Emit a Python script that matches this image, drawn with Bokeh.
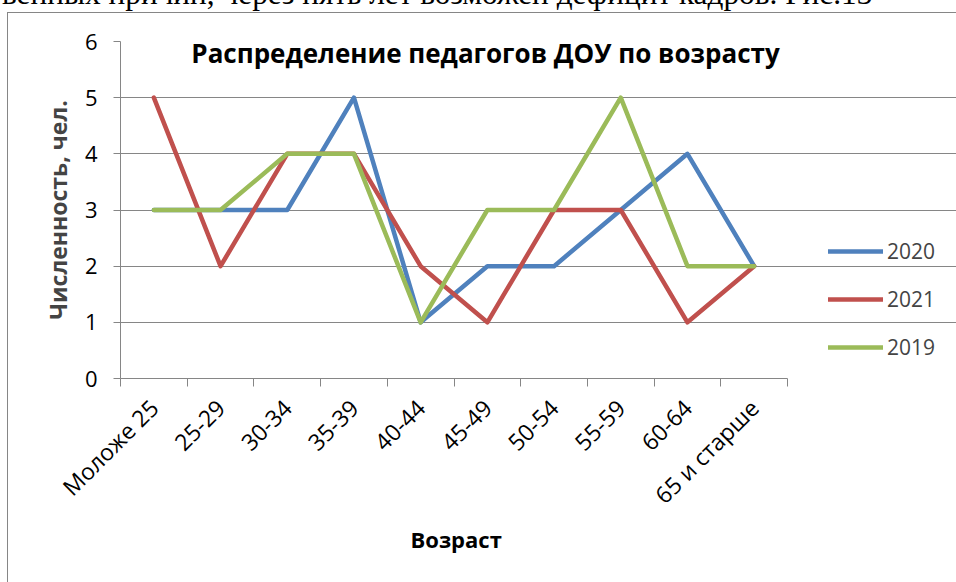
import math
from bokeh.plotting import figure
from bokeh.models import (FixedTicker, Label, Legend, LegendItem, Range1d,
                          Div, Title)
from bokeh.layouts import column
from bokeh.embed import file_html
from bokeh.resources import INLINE

# ---- data ----
categories = ["Моложе 25", "25-29", "30-34", "35-39", "40-44",
              "45-49", "50-54", "55-59", "60-64", "65 и старше"]
y2020 = [3, 3, 3, 5, 1, 2, 2, 3, 4, 2]
y2021 = [5, 2, 4, 4, 2, 1, 3, 3, 1, 2]
y2019 = [3, 3, 4, 4, 1, 3, 3, 5, 2, 2]
series_names = ["2020", "2021", "2019"]
y_ticks = [0, 1, 2, 3, 4, 5, 6]
colors = ["#4F81BD", "#C0504D", "#9BBB59"]

title_text = "Распределение педагогов ДОУ по возрасту"
x_title = "Возраст"
y_title = "Численность, чел."
caption_text = "венных причин, через пять лет возможен дефицит кадров. Рис.13"

# ---- layout ----
W, H = 956, 582
FL, FR, FT, FB = 120, 787, 41, 378   # axis area edges in px
n = len(categories)
x_end = n * (W - FL) / (FR - FL)     # frame extends to the right edge (legend lives there)

def dx(px):
    return (px - FL) / (FR - FL) * n

def dy(py):
    return (FB - py) / (FB - FT) * 6

xc = [i + 0.5 for i in range(n)]

FONT = "Open Sans"
GRAY = "#868686"

border_css = (f"linear-gradient({GRAY},{GRAY}) 7px 12px / 1px 100% no-repeat, "
              f"linear-gradient({GRAY},{GRAY}) 7px 12px / 100% 1px no-repeat, white")

p = figure(width=W, height=H, output_backend="svg", toolbar_location=None,
           x_range=Range1d(0, x_end), y_range=Range1d(0, 6),
           min_border_left=FL, min_border_right=0,
           min_border_top=FT, min_border_bottom=H - FB,
           styles={"background": border_css})
p.outline_line_color = None
p.background_fill_color = None
p.border_fill_color = None

# axes
xa = p.xaxis[0]
xa.bounds = (0, n)
xa.ticker = FixedTicker(ticks=xc, minor_ticks=list(range(n + 1)))
xa.major_label_overrides = {v: c for v, c in zip(xc, categories)}
xa.major_tick_in = 0
xa.major_tick_out = 0
xa.minor_tick_in = 0
xa.minor_tick_out = 8
xa.minor_tick_line_color = GRAY
xa.axis_line_color = GRAY
xa.major_label_orientation = math.pi / 4
xa.major_label_text_font = FONT
xa.major_label_text_font_size = "23px"
xa.major_label_text_color = "black"
xa.major_label_standoff = 17

# x-axis title, centred under the category axis
p.add_layout(Title(text=x_title, align="left", offset=410 - FL, standoff=-6,
                   text_font=FONT, text_font_style="bold",
                   text_font_size="22px", text_color="black"), "below")

ya = p.yaxis[0]
ya.ticker = FixedTicker(ticks=y_ticks)
ya.major_tick_in = 0
ya.major_tick_out = 7
ya.major_tick_line_color = GRAY
ya.minor_tick_line_color = None
ya.axis_line_color = GRAY
ya.major_label_text_font = FONT
ya.major_label_text_font_size = "22px"
ya.major_label_text_color = "black"
ya.major_label_standoff = 16
ya.axis_label = y_title
ya.axis_label_text_font = FONT
ya.axis_label_text_font_style = "bold"
ya.axis_label_text_font_size = "23px"
ya.axis_label_standoff = 8

p.xgrid.grid_line_color = None
p.ygrid.ticker = FixedTicker(ticks=y_ticks)
p.ygrid.bounds = (0, n)
p.ygrid.grid_line_color = GRAY
p.ygrid.grid_line_width = 1

# lines
renderers = []
for vals, col in zip([y2020, y2021, y2019], colors):
    r = p.line(xc, vals, line_color=col, line_width=4.5,
               line_join="round", line_cap="round")
    renderers.append(r)

legend = Legend(items=[LegendItem(label=nm, renderers=[r])
                       for nm, r in zip(series_names, renderers)],
                location=(828 - FL, 17), padding=0, margin=0,
                glyph_width=55, glyph_height=28, label_height=28,
                spacing=20, label_standoff=4,
                label_text_font=FONT, label_text_font_size="21px",
                border_line_color=None, background_fill_alpha=0)
p.add_layout(legend, "center")

# title inside the plot
p.add_layout(Label(x=dx(485), y=dy(52), text=title_text,
                   text_align="center", text_baseline="middle",
                   text_font=FONT, text_font_style="bold",
                   text_font_size="26px", text_color="black"))

# page caption above the chart (cut off at the top, as in the source)
cap = Div(text=caption_text,
          styles={"position": "absolute", "top": "-26px", "left": "-3px",
                  "font-family": "Liberation Serif", "font-size": "31.3px",
                  "line-height": "30px", "white-space": "nowrap",
                  "color": "black", "z-index": "5"})

layout = column(cap, p)
open("out.html", "w").write(file_html(layout, INLINE))
